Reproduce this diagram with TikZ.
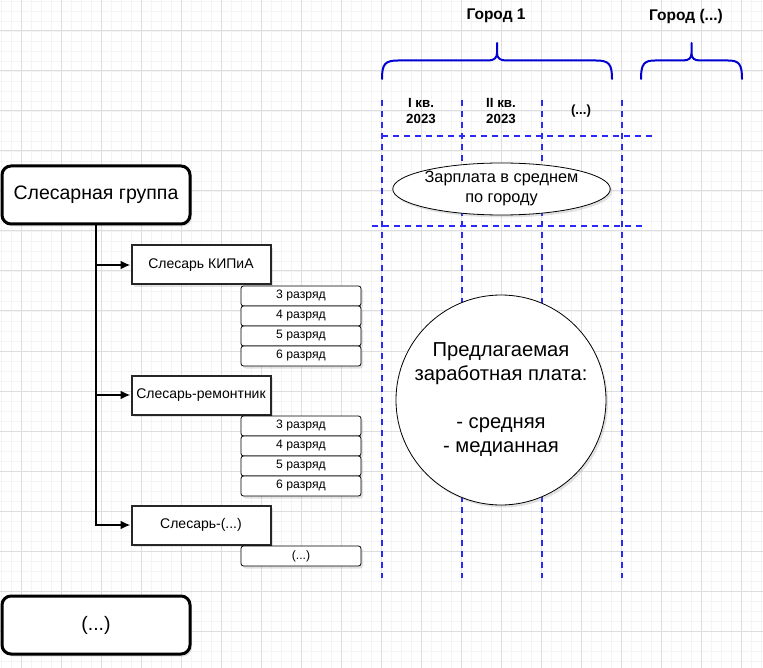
\documentclass[tikz,border=0pt]{standalone}
\usepackage{fontspec}
\setmainfont{Liberation Sans}
\usetikzlibrary{shapes.geometric,shadows,arrows.meta}
\definecolor{gridminor}{RGB}{244,244,244}
\definecolor{gridmajor}{RGB}{222,222,222}
\definecolor{dashblue}{RGB}{40,40,255}
\definecolor{braceblue}{RGB}{0,0,210}
\newcommand{\fsz}[2]{\fontsize{#1}{#2}\selectfont}
\tikzset{
  shd/.style={drop shadow={shadow xshift=2pt,shadow yshift=-2.5pt,opacity=0.22}},
  bigbox/.style={draw=black,line width=3pt,rounded corners=9pt,fill=white,minimum width=188pt,minimum height=58pt,inner sep=0pt,font=\fsz{19.5}{23},shd},
  subbox/.style={draw=black!85,line width=2pt,fill=white,minimum width=139pt,minimum height=39pt,inner sep=0pt,font=\fsz{14}{16.5},shd},
  rankbox/.style={draw=black,line width=0.8pt,rounded corners=2.5pt,fill=white,minimum width=120pt,minimum height=20pt,inner sep=0pt,font=\fsz{12.2}{14},shd},
  conn/.style={line width=2pt,-{Latex[length=10pt,width=9pt]}},
  bline/.style={draw=dashblue,line width=2pt,dash pattern=on 6pt off 5pt},
  brace/.style={draw=braceblue,line width=2pt,line cap=round},
  head/.style={font=\bfseries\fsz{15.5}{18},align=center,inner sep=0pt},
  qhead/.style={font=\bfseries\fsz{13.3}{16},align=center,inner sep=0pt},
}
\begin{document}
\begin{tikzpicture}[x=1pt,y=-1pt]
\useasboundingbox (0,0) rectangle (763,668);
\fill[white] (0,0) rectangle (763,668);
% grid
\foreach \x in {1,11,...,761} \draw[gridminor,line width=0.8pt] (\x,0) -- (\x,668);
\foreach \y in {1,11,...,661} \draw[gridminor,line width=0.8pt] (0,\y) -- (763,\y);
\foreach \x in {21,61,...,741} \draw[gridmajor,line width=1pt] (\x,0) -- (\x,668);
\foreach \y in {31,71,...,631} \draw[gridmajor,line width=1pt] (0,\y) -- (763,\y);

% blue dashed table lines
\coordinate (v1t) at (382,100); \coordinate (v1b) at (382,578);
\coordinate (v2t) at (462,100); \coordinate (v2b) at (462,578);
\coordinate (v3t) at (542,100); \coordinate (v3b) at (542,578);
\coordinate (v4t) at (622,100); \coordinate (v4b) at (622,578);
\coordinate (h1l) at (382,136); \coordinate (h1r) at (653,136);
\coordinate (h2l) at (372,226); \coordinate (h2r) at (643,226);
\draw[bline] (v1t) -- (v1b);
\draw[bline] (v2t) -- (v2b);
\draw[bline] (v3t) -- (v3b);
\draw[bline] (v4t) -- (v4b);
\draw[bline] (h1l) -- (h1r);
\draw[bline] (h2l) -- (h2r);

% braces
\draw[brace] (382,79) .. controls (382,64) and (385,60.5) .. (398,60.5) -- (488,60.5)
  .. controls (494,60.5) and (497,58) .. (497,53) -- (497,43)
  (497,53) .. controls (497,58) and (500,60.5) .. (506,60.5) -- (596,60.5)
  .. controls (609,60.5) and (612,64) .. (612,79);
\draw[brace] (641,79) .. controls (641,64) and (644,60.5) .. (655,60.5) -- (683,60.5)
  .. controls (689,60.5) and (691.5,58) .. (691.5,53) -- (691.5,43)
  (691.5,53) .. controls (691.5,58) and (694,60.5) .. (700,60.5) -- (728,60.5)
  .. controls (739,60.5) and (742,64) .. (742,79);

% headers
\node[head] (city1) at (496,16) {Город 1};
\node[head] (city2) at (686,16) {Город (...)};
\node[qhead] (q1) at (421,111) {I кв.\\2023};
\node[qhead] (q2) at (501,111) {II кв.\\2023};
\node[qhead] (q3) at (581,111) {(...)};

% ellipse and circle
\node[ellipse,draw=black,line width=0.8pt,fill=white,minimum width=211pt,minimum height=52pt,inner sep=0pt,align=center,font=\fsz{16.3}{20},shd] (avg) at (501.5,189) {Зарплата в среднем\\по городу};
\node[circle,draw=black,line width=0.8pt,fill=white,minimum size=210pt,inner sep=0pt,align=center,font=\fsz{20.2}{24},shd] (offer) at (501,400) {Предлагаемая\\заработная плата:\\\mbox{}\\- средняя\\- медианная};

% left tree
\node[bigbox] (grp) at (96,195) {Слесарная группа};
\node[bigbox] (more) at (96,625) {(...)};
\node[subbox] (kip) at (201,265) {Слесарь КИПиА};
\node[subbox] (rem) at (201,395) {Слесарь-ремонтник};
\node[subbox] (oth) at (201,525) {Слесарь-(...)};

\node[rankbox] (k3) at (301,296) {3 разряд};
\node[rankbox] (k4) at (301,316) {4 разряд};
\node[rankbox] (k5) at (301,336) {5 разряд};
\node[rankbox] (k6) at (301,356) {6 разряд};
\node[rankbox] (r3) at (301,426) {3 разряд};
\node[rankbox] (r4) at (301,446) {4 разряд};
\node[rankbox] (r5) at (301,466) {5 разряд};
\node[rankbox] (r6) at (301,486) {6 разряд};
\node[rankbox] (o1) at (301,556) {(...)};

\draw[conn] (grp.south) |- (kip.west);
\draw[conn] (grp.south) |- (rem.west);
\draw[conn] (grp.south) |- (oth.west);
\end{tikzpicture}
\end{document}
